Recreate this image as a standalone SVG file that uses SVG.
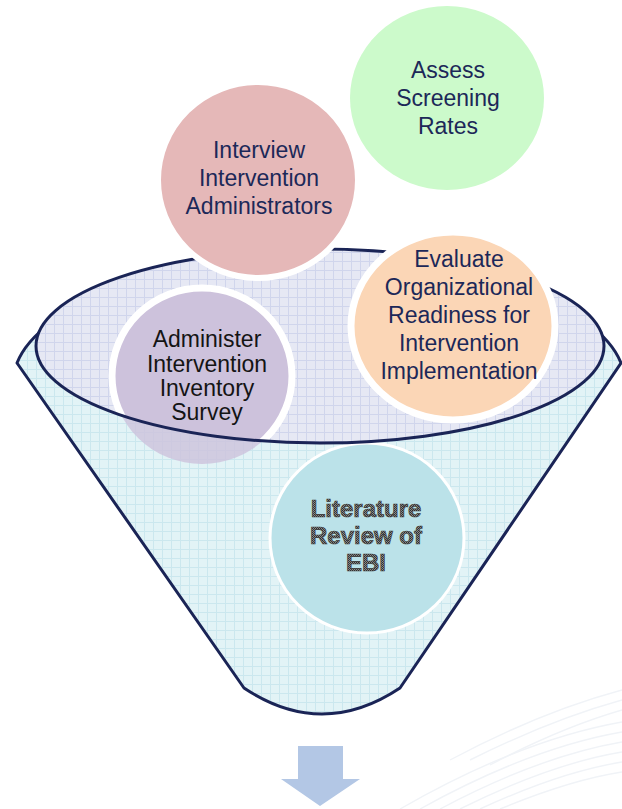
<svg xmlns="http://www.w3.org/2000/svg" width="622" height="809" viewBox="0 0 622 809">
<style>
.t{font-family:"Liberation Sans",Arial,sans-serif;font-size:23px;text-anchor:middle;fill:#1c2858}
.tb{fill:#141414}
.lit{font-family:"Liberation Sans",Arial,sans-serif;font-size:24px;font-weight:bold;text-anchor:middle;fill:url(#stip);stroke:#3a3a3a;stroke-width:0.7}
.rim{fill:none;stroke:#1a2456;stroke-width:3}
.sw{fill:none;stroke:#f0f3f7;stroke-width:1.4}
</style>
<defs>
<pattern id="gridC" width="9" height="9" patternUnits="userSpaceOnUse">
<rect width="9" height="9" fill="#e2f3f6"/>
<path d="M0 0.5H9M0.5 0V9" stroke="#cbe7ee" stroke-width="1"/>
</pattern>
<pattern id="gridL" width="9" height="9" patternUnits="userSpaceOnUse">
<rect width="9" height="9" fill="#e6e8f4"/>
<path d="M0 0.5H9M0.5 0V9" stroke="#d0d5ec" stroke-width="1"/>
</pattern>
<pattern id="stip" width="2" height="2" patternUnits="userSpaceOnUse">
<rect width="2" height="2" fill="#8a8a8a"/>
<rect width="1" height="1" fill="#2e2e2e"/>
<rect x="1" y="1" width="1" height="1" fill="#3a3a3a"/>
</pattern>
<clipPath id="innerClip"><ellipse cx="320" cy="346" rx="284" ry="97"/></clipPath>
</defs>

<g id="background">
<path class="sw" d="M400 809 Q520 740 622 722"/>
<path class="sw" d="M420 809 Q530 748 622 732"/>
<path class="sw" d="M440 809 Q540 756 622 742"/>
<path class="sw" d="M460 809 Q550 764 622 752"/>
<path class="sw" d="M480 809 Q560 772 622 762"/>
<path class="sw" d="M500 809 Q570 780 622 772"/>
<path class="sw" d="M450 760 Q540 712 622 690"/>
<path class="sw" d="M470 760 Q550 720 622 700"/>
<path class="sw" d="M490 765 Q560 728 622 710"/>
</g>

<g id="funnel">
<path d="M17 363 A306 125 0 0 1 621 363 L400 688 Q322 740 244 688 Z" fill="url(#gridC)" stroke="#1a2456" stroke-width="3" stroke-linejoin="round"/>
<ellipse cx="320" cy="346" rx="284" ry="97" fill="url(#gridL)"/>
</g>

<g id="node-administer">
<ellipse cx="202" cy="376" rx="90" ry="88" fill="#cdc2dc" opacity="0.8"/>
<g clip-path="url(#innerClip)">
<ellipse cx="202" cy="376" rx="90" ry="88" fill="#cdc2dc" stroke="#ffffff" stroke-width="7"/>
</g>
<text class="t tb" x="207" y="347">Administer</text>
<text class="t tb" x="207" y="372">Intervention</text>
<text class="t tb" x="207" y="396">Inventory</text>
<text class="t tb" x="207" y="420">Survey</text>
</g>

<g id="node-literature">
<ellipse cx="367" cy="538" rx="97" ry="95" fill="#bbe2e9" stroke="#ffffff" stroke-width="3"/>
<text class="lit" x="366" y="517">Literature</text>
<text class="lit" x="366" y="544">Review of</text>
<text class="lit" x="366" y="571">EBI</text>
</g>

<g id="funnel-rim">
<ellipse class="rim" cx="320" cy="346" rx="284" ry="97"/>
</g>

<g id="node-evaluate">
<ellipse cx="453" cy="326" rx="102" ry="94" fill="#fbd6b6" stroke="#ffffff" stroke-width="7"/>
<text class="t" x="459" y="267">Evaluate</text>
<text class="t" x="459" y="295">Organizational</text>
<text class="t" x="459" y="323">Readiness for</text>
<text class="t" x="459" y="351">Intervention</text>
<text class="t" x="459" y="379">Implementation</text>
</g>

<g id="node-interview">
<ellipse cx="258" cy="180" rx="100" ry="98" fill="#e5b8b8" stroke="#ffffff" stroke-width="6"/>
<text class="t" x="259" y="158">Interview</text>
<text class="t" x="259" y="186">Intervention</text>
<text class="t" x="259" y="214">Administrators</text>
</g>

<g id="node-assess">
<ellipse cx="447" cy="98" rx="97" ry="92" fill="#ccfacb"/>
<text class="t" x="448" y="78">Assess</text>
<text class="t" x="448" y="106">Screening</text>
<text class="t" x="448" y="134">Rates</text>
</g>

<g id="connectors">
<polygon points="298,746 343,746 343,779 360,779 320,806 281,779 298,779" fill="#b3c7e5"/>
</g>
</svg>
